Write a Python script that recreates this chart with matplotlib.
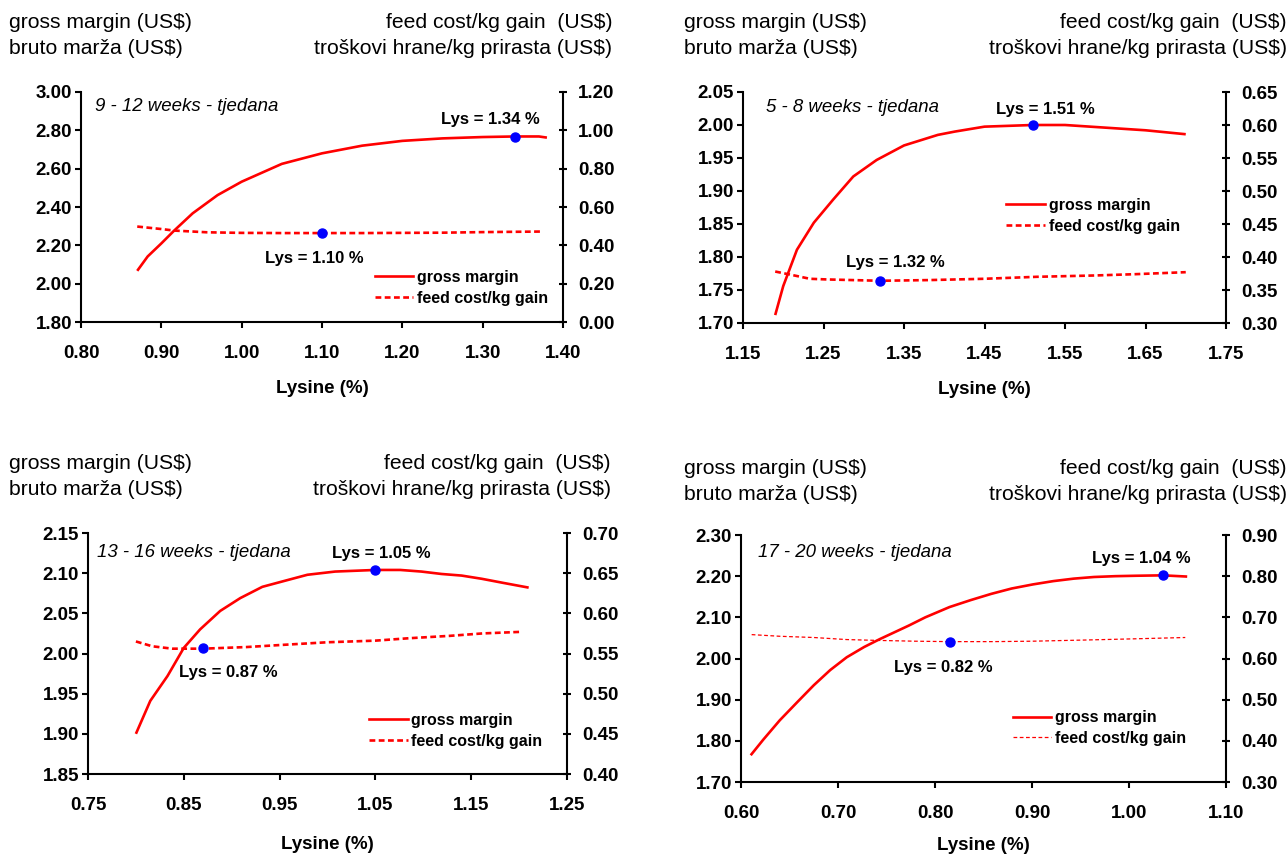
import matplotlib
matplotlib.use('Agg')
import matplotlib.pyplot as plt
from matplotlib.lines import Line2D

plt.rcParams['font.family'] = ['Liberation Sans', 'DejaVu Sans']

W, H = 1288, 855

# ---------------- data ----------------
# Panel 1: 9 - 12 weeks
p1_x_gm = [0.87, 0.883, 0.90, 0.916, 0.939, 0.97, 1.00, 1.05, 1.10, 1.15, 1.20, 1.25, 1.30, 1.34, 1.37, 1.38]
p1_gm = [2.067, 2.142, 2.21, 2.277, 2.367, 2.462, 2.532, 2.625, 2.68, 2.72, 2.745, 2.758, 2.765, 2.768, 2.768, 2.762]
p1_x_fc = [0.87, 0.90, 0.916, 0.957, 1.00, 1.05, 1.10, 1.15, 1.20, 1.25, 1.30, 1.375]
p1_fc = [0.498, 0.485, 0.477, 0.468, 0.465, 0.464, 0.464, 0.464, 0.465, 0.466, 0.469, 0.472]
p1_opt_gm = (1.34, 2.767)
p1_opt_fc = (1.10, 0.466)

# Panel 2: 5 - 8 weeks
p2_x_gm = [1.19, 1.20, 1.217, 1.238, 1.262, 1.287, 1.316, 1.35, 1.392, 1.413, 1.45, 1.51, 1.55, 1.60, 1.65, 1.70]
p2_gm = [1.712, 1.756, 1.811, 1.852, 1.887, 1.922, 1.947, 1.969, 1.985, 1.990, 1.9975, 2.0, 2.0, 1.996, 1.992, 1.986]
p2_x_fc = [1.19, 1.21, 1.233, 1.254, 1.32, 1.38, 1.45, 1.515, 1.587, 1.638, 1.70]
p2_fc = [0.378, 0.373, 0.367, 0.366, 0.364, 0.365, 0.367, 0.370, 0.372, 0.374, 0.377]
p2_opt_gm = (1.51, 2.0)
p2_opt_fc = (1.32, 0.364)

# Panel 3: 13 - 16 weeks
p3_x_gm = [0.80, 0.815, 0.833, 0.850, 0.867, 0.888, 0.909, 0.932, 0.957, 0.979, 1.008, 1.05, 1.076, 1.098,
           1.119, 1.14, 1.161, 1.183, 1.21]
p3_gm = [1.90, 1.941, 1.972, 2.007, 2.030, 2.053, 2.069, 2.083, 2.091, 2.098, 2.102, 2.104, 2.104, 2.102,
         2.099, 2.097, 2.093, 2.088, 2.082]
p3_x_fc = [0.80, 0.817, 0.838, 0.87, 0.915, 0.957, 1.00, 1.05, 1.085, 1.128, 1.162, 1.203]
p3_fc = [0.565, 0.559, 0.556, 0.556, 0.558, 0.561, 0.564, 0.566, 0.569, 0.572, 0.575, 0.577]
p3_opt_gm = (1.05, 2.104)
p3_opt_fc = (0.87, 0.557)

# Panel 4: 17 - 20 weeks
p4_x_gm = [0.61, 0.623, 0.64, 0.658, 0.675, 0.692, 0.709, 0.727, 0.743, 0.773, 0.79, 0.815, 0.837, 0.858,
           0.879, 0.901, 0.922, 0.943, 0.964, 0.986, 1.007, 1.035, 1.06]
p4_gm = [1.765, 1.803, 1.850, 1.894, 1.935, 1.972, 2.003, 2.028, 2.047, 2.080, 2.100, 2.125, 2.142, 2.157,
         2.170, 2.180, 2.188, 2.194, 2.198, 2.200, 2.201, 2.202, 2.199]
p4_x_fc = [0.611, 0.64, 0.675, 0.709, 0.74, 0.78, 0.815, 0.86, 0.90, 0.957, 1.009, 1.058]
p4_fc = [0.658, 0.654, 0.651, 0.646, 0.644, 0.642, 0.641, 0.641, 0.642, 0.645, 0.648, 0.651]
p4_opt_gm = (1.035, 2.203)
p4_opt_fc = (0.815, 0.641)

titles = ['9 - 12 weeks - tjedana', '5 - 8 weeks - tjedana', '13 - 16 weeks - tjedana', '17 - 20 weeks - tjedana']
opt_gm_labels = ['Lys = 1.34 %', 'Lys = 1.51 %', 'Lys = 1.05 %', 'Lys = 1.04 %']
opt_fc_labels = ['Lys = 1.10 %', 'Lys = 1.32 %', 'Lys = 0.87 %', 'Lys = 0.82 %']

xticks = [
    [0.80, 0.90, 1.00, 1.10, 1.20, 1.30, 1.40],
    [1.15, 1.25, 1.35, 1.45, 1.55, 1.65, 1.75],
    [0.75, 0.85, 0.95, 1.05, 1.15, 1.25],
    [0.60, 0.70, 0.80, 0.90, 1.00, 1.10],
]
yticks_left = [
    [1.80, 2.00, 2.20, 2.40, 2.60, 2.80, 3.00],
    [1.70, 1.75, 1.80, 1.85, 1.90, 1.95, 2.00, 2.05],
    [1.85, 1.90, 1.95, 2.00, 2.05, 2.10, 2.15],
    [1.70, 1.80, 1.90, 2.00, 2.10, 2.20, 2.30],
]
yticks_right = [
    [0.00, 0.20, 0.40, 0.60, 0.80, 1.00, 1.20],
    [0.30, 0.35, 0.40, 0.45, 0.50, 0.55, 0.60, 0.65],
    [0.40, 0.45, 0.50, 0.55, 0.60, 0.65, 0.70],
    [0.30, 0.40, 0.50, 0.60, 0.70, 0.80, 0.90],
]

hdr_left_1 = 'gross margin (US$)'
hdr_left_2 = 'bruto marža (US$)'
hdr_right_1 = 'feed cost/kg gain  (US$)'
hdr_right_2 = 'troškovi hrane/kg prirasta (US$)'
legend_labels = ['gross margin', 'feed cost/kg gain']

# ---------------- layout (pixels) ----------------
boxes = [(81, 92, 563, 322), (743, 92, 1226, 323), (88, 533, 567, 774), (741, 535, 1226, 782)]
hdr_pos = [(9, 612, 23, 48), (684, 1287, 23, 48), (9, 611, 463, 489), (684, 1287, 468, 494)]
title_pos = [(0.029, 0.935), (0.048, 0.935), (0.019, 0.921), (0.035, 0.931)]
gm_lab_pos = [(1.310, 2.859), (1.526, 2.023), (1.056, 2.125), (1.013, 2.242)]
fc_lab_pos = [(1.090, 2.129), (1.339, 1.791), (0.896, 1.976), (0.809, 1.979)]
leg_anchor = [(0.610, 0.226), (0.545, 0.541), (0.587, 0.253), (0.561, 0.291)]
xlabelpads = [13, 13, 16, 11]

data = [
    (p1_x_gm, p1_gm, p1_x_fc, p1_fc, p1_opt_gm, p1_opt_fc),
    (p2_x_gm, p2_gm, p2_x_fc, p2_fc, p2_opt_gm, p2_opt_fc),
    (p3_x_gm, p3_gm, p3_x_fc, p3_fc, p3_opt_gm, p3_opt_fc),
    (p4_x_gm, p4_gm, p4_x_fc, p4_fc, p4_opt_gm, p4_opt_fc),
]

fig = plt.figure(figsize=(W / 100, H / 100), dpi=100)

RED = '#FF0000'
BLUE = '#0000FF'
TICK_FS = 13.5
HDR_FS = 15.2
for i in range(4):
    l, t, r, b = boxes[i]
    ax = fig.add_axes([l / W, 1 - b / H, (r - l) / W, (b - t) / H])
    ax2 = ax.twinx()
    xg, g, xf, f, og, of = data[i]

    thin = (i == 3)
    ax.plot(xg, g, color=RED, lw=1.9, solid_capstyle='butt', solid_joinstyle='round')
    if thin:
        fc_style = dict(color=RED, lw=0.9, linestyle=(0, (3, 2)))
    else:
        fc_style = dict(color=RED, lw=1.9, linestyle=(0, (2.2, 1.3)))
    ax2.plot(xf, f, **fc_style)
    ax.plot([og[0]], [og[1]], 'o', color=BLUE, ms=6.5, zorder=5)
    ax2.plot([of[0]], [of[1]], 'o', color=BLUE, ms=6.5, zorder=5)

    ax.set_xlim(xticks[i][0], xticks[i][-1])
    ax.set_ylim(yticks_left[i][0], yticks_left[i][-1])
    ax2.set_ylim(yticks_right[i][0], yticks_right[i][-1])
    ax.set_xticks(xticks[i])
    ax.set_xticklabels(['%.2f' % v for v in xticks[i]])
    ax.set_yticks(yticks_left[i])
    ax.set_yticklabels(['%.2f' % v for v in yticks_left[i]])
    ax2.set_yticks(yticks_right[i])
    ax2.set_yticklabels(['%.2f' % v for v in yticks_right[i]])

    for a in (ax, ax2):
        a.spines['top'].set_visible(False)
        for s in a.spines.values():
            s.set_linewidth(1.5)
    ax.spines['right'].set_visible(False)
    ax2.spines['left'].set_visible(False)
    ax2.spines['bottom'].set_visible(False)

    ax.tick_params(axis='y', direction='out', length=4.5, width=1.5, pad=2, labelsize=TICK_FS)
    ax.tick_params(axis='x', direction='out', length=4.5, width=1.5, pad=12, labelsize=TICK_FS)
    ax2.tick_params(axis='y', direction='inout', length=6, width=1.5, pad=8, labelsize=TICK_FS)
    for lab in ax.get_xticklabels() + ax.get_yticklabels() + ax2.get_yticklabels():
        lab.set_fontweight('bold')

    ax.set_xlabel('Lysine (%)', fontsize=13.5, fontweight='bold', labelpad=xlabelpads[i])

    ax.text(title_pos[i][0], title_pos[i][1], titles[i], transform=ax.transAxes,
            ha='left', va='center', fontsize=13.4, style='italic')
    ax.text(gm_lab_pos[i][0], gm_lab_pos[i][1], opt_gm_labels[i], ha='center', va='center',
            fontsize=12, fontweight='bold')
    ax.text(fc_lab_pos[i][0], fc_lab_pos[i][1], opt_fc_labels[i], ha='center', va='center',
            fontsize=12, fontweight='bold')

    handles = [Line2D([], [], color=RED, lw=1.9),
               Line2D([], [], **fc_style)]
    ax2.legend(handles, legend_labels, loc='upper left', bbox_to_anchor=leg_anchor[i],
               frameon=False, borderpad=0, borderaxespad=0, handlelength=2.4,
               handletextpad=0.25, labelspacing=0.35,
               prop=dict(weight='bold', size=11.5))

    xl, xr, y1, y2 = hdr_pos[i]
    fig.text(xl / W, 1 - y1 / H, hdr_left_1, ha='left', va='center', fontsize=HDR_FS)
    fig.text(xl / W, 1 - y2 / H, hdr_left_2, ha='left', va='center', fontsize=HDR_FS)
    fig.text(xr / W, 1 - y1 / H, hdr_right_1, ha='right', va='center', fontsize=HDR_FS)
    fig.text(xr / W, 1 - y2 / H, hdr_right_2, ha='right', va='center', fontsize=HDR_FS)

fig.savefig('out.png', dpi=100)
